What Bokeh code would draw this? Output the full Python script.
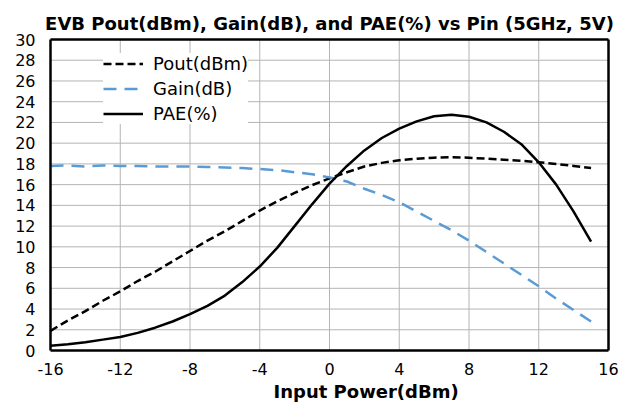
from bokeh.plotting import figure
from bokeh.models import FixedTicker, Legend, LegendItem, Title, Range1d, LinearAxis
from bokeh.embed import file_html
from bokeh.resources import INLINE

# ---- data ----
pin = [-16, -15, -14, -13, -12, -11, -10, -9, -8, -7, -6, -5, -4, -3, -2, -1,
       0, 1, 2, 3, 4, 5, 6, 7, 8, 9, 10, 11, 12, 13, 14, 15]
pout = [1.9, 2.9, 3.8, 4.8, 5.7, 6.7, 7.6, 8.6, 9.6, 10.6, 11.5, 12.5, 13.5, 14.4, 15.2, 15.95,
        16.6, 17.2, 17.75, 18.1, 18.35, 18.5, 18.6, 18.65, 18.6, 18.5, 18.4, 18.3, 18.15, 18.0, 17.8, 17.6]
gain = [17.8, 17.85, 17.75, 17.85, 17.8, 17.8, 17.75, 17.75, 17.75, 17.7, 17.65, 17.6, 17.5, 17.4, 17.2, 17.0,
        16.7, 16.3, 15.6, 15.0, 14.3, 13.4, 12.5, 11.6, 10.6, 9.5, 8.4, 7.3, 6.2, 5.0, 3.9, 2.8]
pae = [0.45, 0.6, 0.8, 1.05, 1.3, 1.7, 2.2, 2.8, 3.5, 4.3, 5.3, 6.6, 8.1, 9.9, 12.0, 14.1,
       16.1, 17.8, 19.3, 20.5, 21.4, 22.1, 22.6, 22.75, 22.55, 22.0, 21.1, 19.9, 18.15, 16.0, 13.4, 10.5]

x_ticks = [-16, -12, -8, -4, 0, 4, 8, 12, 16]
x_tick_labels = ["-16", "-12", "-8", "-4", "0", "4", "8", "12", "16"]
y_ticks = [0, 2, 4, 6, 8, 10, 12, 14, 16, 18, 20, 22, 24, 26, 28, 30]
y_tick_labels = ["0", "2", "4", "6", "8", "10", "12", "14", "16", "18", "20", "22", "24", "26", "28", "30"]

title_text = "EVB Pout(dBm), Gain(dB), and PAE(%) vs Pin (5GHz, 5V)"
x_label = "Input Power(dBm)"
series_names = ["Pout(dBm)", "Gain(dB)", "PAE(%)"]

FONT = "DejaVu Sans"
X_MIN, X_MAX = x_ticks[0], x_ticks[-1]
Y_MIN, Y_MAX = y_ticks[0], y_ticks[-1]

p = figure(width=620, height=411, output_backend="svg", toolbar_location=None,
           x_range=Range1d(X_MIN, X_MAX), y_range=Range1d(Y_MIN, Y_MAX),
           min_border_left=50, min_border_right=12, min_border_top=39, min_border_bottom=61)

p.title.text = title_text
p.title.text_font = FONT
p.title.text_font_size = "18px"
p.title.text_font_style = "bold"
p.title.text_color = "black"
p.title.align = "center"
p.title.standoff = 11

p.xgrid.visible = False
p.ygrid.visible = False
p.outline_line_color = None

# grid lines drawn from the tick arrays
GRID = "#b4b4b4"
p.segment(x0=x_ticks[1:-1], y0=[Y_MIN] * (len(x_ticks) - 2), x1=x_ticks[1:-1], y1=[Y_MAX] * (len(x_ticks) - 2),
          line_color=GRID, line_width=1)
p.segment(x0=[X_MIN] * (len(y_ticks) - 2), y0=y_ticks[1:-1], x1=[X_MAX] * (len(y_ticks) - 2), y1=y_ticks[1:-1],
          line_color=GRID, line_width=1)

r1 = p.line(pin, pout, line_color="black", line_width=2.5, line_dash="8 4")
r2 = p.line(pin, gain, line_color="#5B9BD5", line_width=2.5, line_dash="13 8")
r3 = p.line(pin, pae, line_color="black", line_width=2.5)

for ax, ticks, labels in ((p.xaxis[0], x_ticks, x_tick_labels), (p.yaxis[0], y_ticks, y_tick_labels)):
    ax.ticker = FixedTicker(ticks=ticks)
    ax.major_label_overrides = {t: l for t, l in zip(ticks, labels)}
    ax.axis_line_color = "black"
    ax.axis_line_width = 2.5
    ax.major_tick_line_color = None
    ax.minor_tick_line_color = None
    ax.major_tick_out = 0
    ax.major_tick_in = 0
    ax.major_label_text_font = FONT
    ax.major_label_text_font_size = "16px"
    ax.major_label_text_color = "black"

p.xaxis[0].major_label_standoff = 12
p.yaxis[0].major_label_standoff = 15

# frame border on the other two sides
for side in ("right", "above"):
    a = LinearAxis(ticker=FixedTicker(ticks=[]), axis_line_color="black", axis_line_width=2.5,
                   major_tick_line_color=None, minor_tick_line_color=None,
                   major_tick_out=0, major_tick_in=0, major_label_text_font_size="0px",
                   major_label_standoff=0)
    p.add_layout(a, side)

xt = Title(text=x_label, align="left", offset=223, vertical_align="top", standoff=6,
           text_font=FONT, text_font_size="18px", text_font_style="bold", text_color="black")
p.add_layout(xt, "below")

legend = Legend(items=[LegendItem(label=series_names[0], renderers=[r1]),
                       LegendItem(label=series_names[1], renderers=[r2]),
                       LegendItem(label=series_names[2], renderers=[r3])],
                location=(53, 226), margin=0, padding=10, spacing=4,
                glyph_width=40, glyph_height=21, label_height=21, label_standoff=10,
                label_text_font=FONT, label_text_font_size="18px", label_text_color="black",
                border_line_color=None, background_fill_color="white", background_fill_alpha=1.0)
p.add_layout(legend)

open("out.html", "w").write(file_html(p, INLINE))
